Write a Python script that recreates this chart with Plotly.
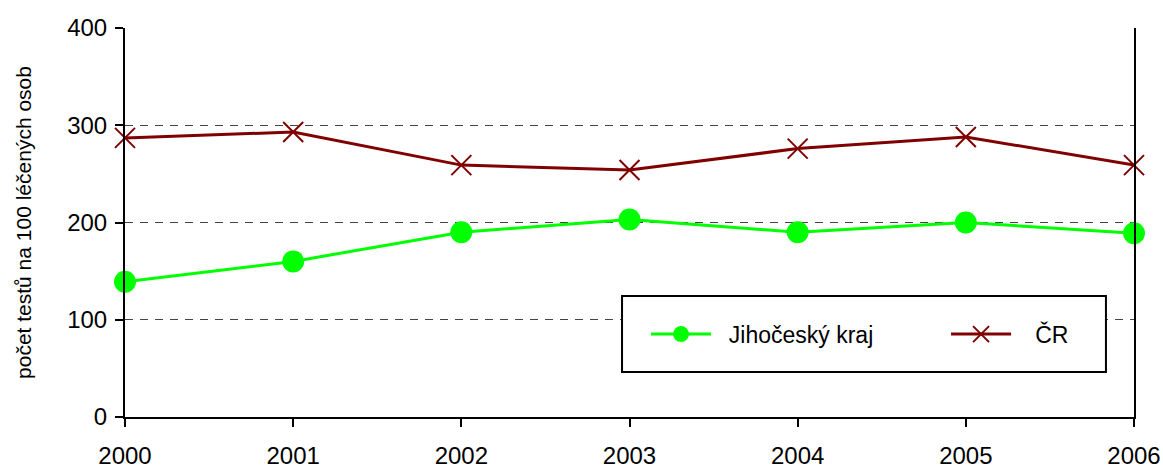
import plotly.graph_objects as go

years = [2000, 2001, 2002, 2003, 2004, 2005, 2006]
jihocesky = [139, 160, 190, 203, 190, 200, 189]
cr = [287, 293, 259, 254, 276, 288, 259]
y_ticks = [0, 100, 200, 300, 400]
series_names = ["Jihočeský kraj", "ČR"]

FONT = "Liberation Sans Narrow, Arial Narrow, Liberation Sans, Arial, sans-serif"
NB = "\u00a0"

fig = go.Figure()
fig.add_trace(go.Scatter(
    x=years, y=jihocesky, name=NB * 2 + series_names[0], mode="lines+markers",
    line=dict(color="#00FF00", width=3),
    marker=dict(symbol="circle", size=22, color="#00FF00"),
    cliponaxis=False,
))
fig.add_trace(go.Scatter(
    x=years, y=cr, name=NB * 3 + series_names[1], mode="lines+markers",
    line=dict(color="#800000", width=3),
    marker=dict(symbol="x-thin", size=20, color="#800000",
                line=dict(color="#800000", width=2)),
    cliponaxis=False,
))

# legend frame
fig.add_shape(type="rect", xref="paper", yref="paper",
              x0=0.4926, x1=0.9722, y0=0.1157, y1=0.311,
              line=dict(color="black", width=2), fillcolor="white", layer="above")

fig.update_layout(
    width=1163, height=472,
    margin=dict(l=125, r=29, t=28, b=55, autoexpand=False),
    paper_bgcolor="white", plot_bgcolor="white",
    font=dict(family=FONT, size=24, color="black"),
    showlegend=True,
    legend=dict(
        orientation="h", x=0.5164, y=0.213, xanchor="left", yanchor="middle",
        borderwidth=0, bgcolor="rgba(0,0,0,0)",
        font=dict(family=FONT, size=23, color="black"),
        itemwidth=60, entrywidth=225, entrywidthmode="pixels",
        itemsizing="trace",
    ),
    xaxis=dict(
        range=[2000, 2006], tickvals=years, ticktext=[str(y) for y in years],
        showgrid=False, zeroline=False,
        showline=True, linecolor="black", linewidth=2,
        ticks="outside", ticklen=8, tickwidth=2, tickcolor="black",
        ticklabelstandoff=8, tickfont=dict(size=24),
    ),
    yaxis=dict(
        range=[0, 400], tickvals=y_ticks,
        showgrid=True, gridcolor="#444444", griddash="8px,7px", gridwidth=1,
        zeroline=False,
        showline=True, linecolor="black", linewidth=2, mirror=True,
        ticks="outside", ticklen=8, tickwidth=2, tickcolor="black",
        ticklabelstandoff=3, tickfont=dict(size=24),
        title=dict(text="počet testů na 100 léčených osob",
                   font=dict(family=FONT, size=21), standoff=30),
    ),
)

fig.write_html("out.html", config={"displayModeBar": False},
               post_script="document.body.style.margin='0';")
